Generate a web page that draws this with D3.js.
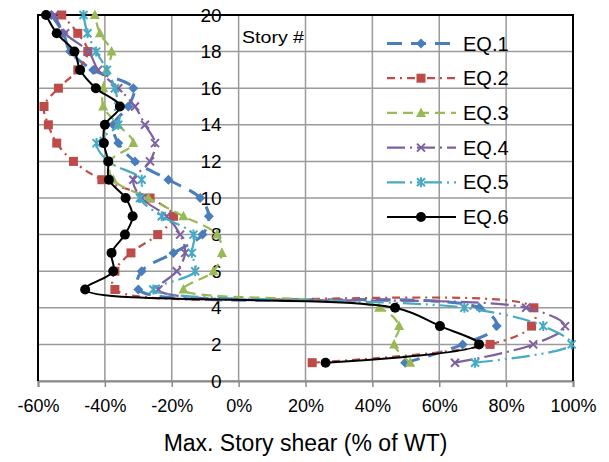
<!DOCTYPE html>
<html>
<head>
<meta charset="utf-8">
<script src="https://cdn.jsdelivr.net/npm/d3@7"></script>
<style>
  html, body { margin: 0; padding: 0; background: #fff; }
  svg { display: block; font-family: "Liberation Sans", Arial, sans-serif; }
</style>
</head>
<body>
<svg id="chart" width="609" height="462"></svg>
<script>
// Story numbers (bottom to top)
const stories = [1, 2, 3, 4, 5, 6, 7, 8, 9, 10, 11, 12, 13, 14, 15, 16, 17, 18, 19, 20];

// Max. story shear (% of WT) per earthquake record, story 1 → 20
const eq1 = [49.8, 67.0, 77.2, 72.0, -30.0, -29.0, -19.5, -10.8, -8.9, -11.5, -21.0, -31.0, -36.0, -37.5, -33.0, -31.5, -43.5, -50.4, -52.4, -56.0];
const eq2 = [22.0, 75.2, 87.6, 88.3, -37.0, -37.0, -32.2, -24.2, -19.5, -26.5, -40.9, -49.4, -54.4, -56.9, -58.2, -53.9, -48.1, -45.1, -48.1, -52.9];
const eq3 = [51.3, 46.5, 48.0, 42.0, -16.5, -7.5, -5.0, -6.5, -16.5, -27.0, -37.5, -38.5, -31.5, -36.0, -40.5, -40.5, -39.5, -38.0, -41.5, -43.0];
const eq4 = [64.7, 88.1, 97.6, 86.0, -24.0, -18.5, -16.0, -17.5, -21.5, -29.0, -31.5, -26.5, -25.0, -28.0, -31.0, -36.0, -42.0, -44.9, -51.9, -55.0];
const eq5 = [70.7, 99.6, 91.1, 67.5, -25.5, -13.0, -14.0, -13.5, -23.0, -29.5, -29.0, -39.0, -42.5, -36.0, -36.0, -37.0, -39.4, -42.6, -45.2, -46.4];
const eq6 = [26.0, 71.9, 60.2, 46.8, -45.9, -37.5, -38.0, -34.0, -31.7, -33.8, -38.8, -39.0, -40.3, -40.0, -35.5, -42.7, -47.4, -49.1, -54.4, -57.6];

const seriesNames = ["EQ.1", "EQ.2", "EQ.3", "EQ.4", "EQ.5", "EQ.6"];
const seriesValues = [eq1, eq2, eq3, eq4, eq5, eq6];

const xTicks = [-60, -40, -20, 0, 20, 40, 60, 80, 100];
const yTicks = [0, 2, 4, 6, 8, 10, 12, 14, 16, 18, 20];

// Visual style for each record
const styles = [
  { color: "#4a7ebb", width: 3,   dash: "15,9",            marker: "diamond" },
  { color: "#be4b48", width: 2.2, dash: "8,5,2,5",         marker: "square" },
  { color: "#98b954", width: 2.2, dash: "10,6",            marker: "triangle" },
  { color: "#7d60a0", width: 2.2, dash: "18,5,2,5",        marker: "cross" },
  { color: "#46aac5", width: 2.2, dash: "18,5,2,5,2,5",    marker: "star" },
  { color: "#000000", width: 2,   dash: null,              marker: "circle" }
];

const svg = d3.select("#chart");
const plot = { left: 38, right: 573, top: 15, bottom: 381 };

const x = d3.scaleLinear().domain([-60, 100]).range([plot.left, plot.right]);
const y = d3.scaleLinear().domain([0, 20]).range([plot.bottom, plot.top]);

// Grid
const grid = svg.append("g");
grid.selectAll("line.v").data(xTicks).join("line")
  .attr("x1", d => x(d)).attr("x2", d => x(d))
  .attr("y1", plot.top).attr("y2", plot.bottom)
  .attr("stroke", "#9a9a9a").attr("stroke-width", 1.5);
grid.selectAll("line.h").data(yTicks).join("line")
  .attr("x1", plot.left).attr("x2", plot.right)
  .attr("y1", d => y(d)).attr("y2", d => y(d))
  .attr("stroke", "#9a9a9a").attr("stroke-width", 1.5);

// Bottom axis
const xAxis = d3.axisBottom(x).tickValues(xTicks).tickSize(6).tickPadding(12)
  .tickFormat(d => d + "%");
const gx = svg.append("g").attr("transform", `translate(0,${plot.bottom})`).call(xAxis);
gx.select(".domain").attr("stroke", "#8a8a8a").attr("stroke-width", 2);
gx.selectAll(".tick line").attr("stroke", "#8a8a8a").attr("stroke-width", 1.5);
gx.selectAll("text").attr("font-size", 18).attr("fill", "#000")
  .attr("font-family", "'Liberation Sans', Arial, sans-serif");

// Story labels beside the 0% line
const yAxis = d3.axisLeft(y).tickValues(yTicks).tickSize(0).tickPadding(17);
const gy = svg.append("g").attr("transform", `translate(${x(0)},0)`).call(yAxis);
gy.select(".domain").remove();
gy.selectAll("text").attr("font-size", 19).attr("fill", "#000")
  .attr("font-family", "'Liberation Sans', Arial, sans-serif");

// Frame: left, top, right in black
svg.append("path")
  .attr("d", `M${plot.left},${plot.bottom}V${plot.top}H${plot.right}V${plot.bottom}`)
  .attr("fill", "none").attr("stroke", "#000").attr("stroke-width", 2);

// Marker drawing
function drawMarker(g, type, color) {
  if (type === "diamond") {
    g.append("path").attr("d", "M0,-5L5,0L0,5L-5,0Z").attr("fill", color);
  } else if (type === "square") {
    g.append("rect").attr("x", -4.5).attr("y", -4.5).attr("width", 9).attr("height", 9).attr("fill", color);
  } else if (type === "triangle") {
    g.append("path").attr("d", "M0,-5.5L5,4L-5,4Z").attr("fill", color);
  } else if (type === "cross") {
    g.append("path").attr("d", "M-4,-4L4,4M-4,4L4,-4").attr("stroke", color).attr("stroke-width", 2).attr("fill", "none");
  } else if (type === "star") {
    g.append("path").attr("d", "M-4,-4L4,4M-4,4L4,-4M0,-5L0,5").attr("stroke", color).attr("stroke-width", 2).attr("fill", "none");
  } else if (type === "circle") {
    g.append("circle").attr("r", 5).attr("fill", color);
  }
}

const line = d3.line()
  .x(d => x(d[1]))
  .y(d => y(d[0]))
  .curve(d3.curveCatmullRom.alpha(0.5));

seriesValues.forEach((vals, i) => {
  const st = styles[i];
  const pts = stories.map((s, k) => [s, vals[k]]);
  const g = svg.append("g");
  g.append("path").datum(pts)
    .attr("d", line)
    .attr("fill", "none")
    .attr("stroke", st.color)
    .attr("stroke-width", st.width)
    .attr("stroke-dasharray", st.dash)
    .attr("stroke-linejoin", "round");
  pts.forEach(p => {
    const m = g.append("g").attr("transform", `translate(${x(p[1])},${y(p[0])})`);
    drawMarker(m, st.marker, st.color);
  });
});

// Legend
const legend = svg.append("g");
seriesNames.forEach((name, i) => {
  const st = styles[i];
  const ly = 43.5 + i * 34.7;
  legend.append("line")
    .attr("x1", 387).attr("x2", 456).attr("y1", ly).attr("y2", ly)
    .attr("stroke", st.color).attr("stroke-width", st.width)
    .attr("stroke-dasharray", st.dash);
  drawMarker(legend.append("g").attr("transform", `translate(421,${ly})`), st.marker, st.color);
  legend.append("text").attr("x", 463).attr("y", ly).attr("dy", "0.35em")
    .attr("font-size", 20).text(name);
});

// Annotation and axis title
svg.append("text").attr("x", 242).attr("y", 43).attr("font-size", 16)
  .attr("textLength", 62).attr("lengthAdjust", "spacingAndGlyphs")
  .text("Story #");

svg.append("text").attr("x", (plot.left + plot.right) / 2).attr("y", 451)
  .attr("text-anchor", "middle").attr("font-size", 23).text("Max. Story shear (% of WT)");
</script>
</body>
</html>
